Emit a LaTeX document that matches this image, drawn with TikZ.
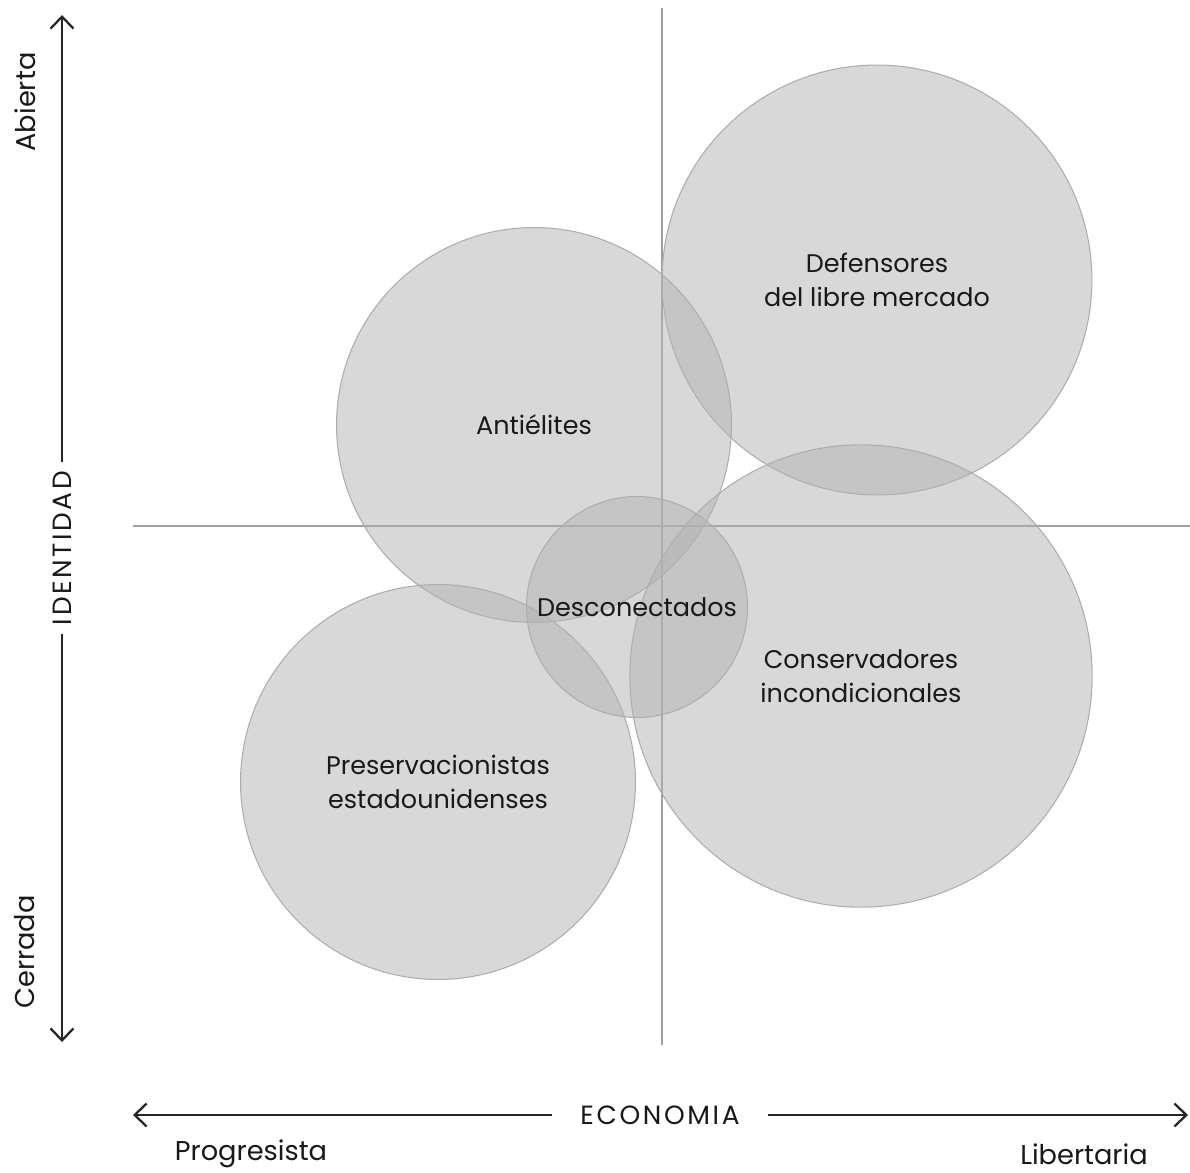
\documentclass[tikz,border=0pt]{standalone}
\usepackage{fontspec}
\setmainfont{Poppins}
\usetikzlibrary{arrows.meta}

\begin{document}
\begin{tikzpicture}[x=0.02cm,y=-0.02cm]
\tikzset{>={Straight Barb[width=4.6mm,length=2.4mm]}}
\tikzstyle{group} =[circle, draw=black!32, line width=0.6pt, fill=black!30, fill opacity=0.5, text opacity=1, text=black!90, align=center, inner sep=0pt, font=\fontsize{14.5}{19.5}\selectfont]
\tikzstyle{axislabel} =[text=black!90, font=\fontsize{15.5}{18}\selectfont]
\tikzstyle{axisname} =[text=black!90, font=\fontsize{15}{18}\selectfont\addfontfeatures{LetterSpace=10}]
\tikzstyle{grid} =[draw=black!38, line width=0.9pt]
\tikzstyle{axis} =[draw=black!85, line width=1.3pt, ->]

\useasboundingbox (0,0) rectangle (1190,1173);

% quadrant lines
\coordinate (vtop) at (662,8);
\coordinate (vbot) at (662,1045);
\coordinate (hleft) at (133,526);
\coordinate (hright) at (1190,526);
\draw[grid] (vtop) -- (vbot);
\draw[grid] (hleft) -- (hright);

% groups
\node[group,minimum size=8.6cm](libre) at (877,280){Defensores\\del libre mercado};
\node[group,minimum size=7.9cm](anti) at (534,425){Antiélites};
\node[group,minimum size=9.25cm](conserv) at (861,676){Conservadores\\incondicionales};
\node[group,minimum size=7.9cm](preserv) at (438,782){Preservacionistas\\estadounidenses};
\node[group,minimum size=4.42cm](descon) at (637,607){Desconectados};

% identidad axis
\node[axisname,rotate=90,inner sep=0pt,outer sep=5pt](ident) at (62,548){IDENTIDAD};
\coordinate (idtop) at (62,15);
\coordinate (idbot) at (62,1042);
\draw[axis] (ident.east) -- (idtop);
\draw[axis] (ident.west) -- (idbot);
\node[axislabel,rotate=90](abierta) at (25,102){Abierta};
\node[axislabel,rotate=90](cerrada) at (25,952){Cerrada};

% economia axis
\node[axisname,inner sep=0pt,outer sep=16pt](econ) at (660,1115){ECONOMIA};
\coordinate (ecleft) at (133,1115);
\coordinate (ecright) at (1188,1115);
\draw[axis] (econ.west) -- (ecleft);
\draw[axis] (econ.east) -- (ecright);
\node[axislabel](progre) at (251,1154){Progresista};
\node[axislabel](liber) at (1084,1154){Libertaria};
\end{tikzpicture}
\end{document}
